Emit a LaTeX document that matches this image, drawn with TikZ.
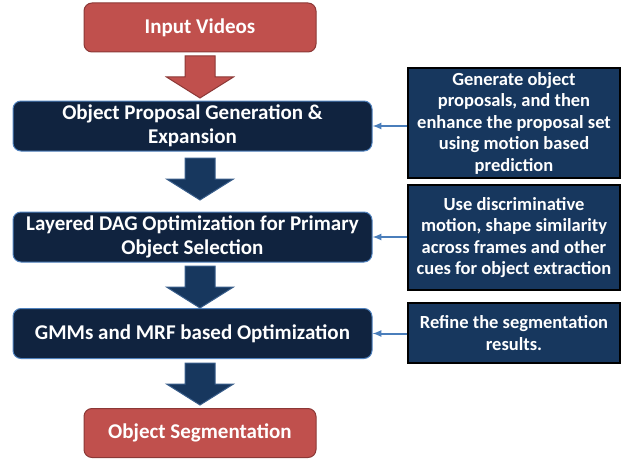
\documentclass[tikz,border=0pt]{standalone}
\usepackage{fontspec}
\setmainfont{Carlito}
\usetikzlibrary{arrows}

\definecolor{redfill}{HTML}{C0504D}
\definecolor{redline}{HTML}{8C3836}
\definecolor{navyfill}{HTML}{10233F}
\definecolor{navyline}{HTML}{4F81BD}
\definecolor{notefill}{HTML}{17375E}
\definecolor{arrowline}{HTML}{385D8A}
\definecolor{linkline}{HTML}{4A7EBB}

\tikzset{
  endbox/.style={draw=redline, line width=1pt, fill=redfill, rounded corners=8pt,
    text=white, font=\bfseries\fontsize{21}{24}\selectfont,
    minimum width=232pt, minimum height=49pt, inner sep=0pt},
  stagebox/.style={draw=navyline, line width=1pt, fill=navyfill, rounded corners=8pt,
    text=white, font=\bfseries\fontsize{21}{24.5}\selectfont, align=center,
    minimum width=359pt, minimum height=50pt, inner sep=0pt},
  notebox/.style={draw=black, line width=1.5pt, fill=notefill,
    text=white, font=\bfseries\fontsize{18.5}{21.5}\selectfont, align=center,
    minimum width=212pt, inner sep=0pt},
  redarrow/.style={draw=redline, fill=redfill, line width=1pt},
  bluearrow/.style={draw=arrowline, fill=notefill, line width=1pt},
  link/.style={draw=linkline, line width=2pt, -latex}
}

% block arrow: style, x, top of shaft, tip
\newcommand{\blockarrow}[4]{%
  \draw[#1] (#2-15,#3) -- (#2+15,#3) -- (#2+15,#4-21) -- (#2+33.5,#4-21)
    -- (#2,#4) -- (#2-33.5,#4-21) -- (#2-15,#4-21) -- cycle;}

\begin{document}
\begin{tikzpicture}[x=1pt,y=-1pt]

\useasboundingbox (0,0) rectangle (621,460);

% main flow
\node[endbox] (vid) at (200,27.5) {Input Videos};
\node[stagebox] (prop) at (192.5,126) {Object Proposal Generation \&\\Expansion};
\node[stagebox] (dag) at (192.5,237) {Layered DAG Optimization for Primary\\Object Selection};
\node[stagebox] (gmm) at (192.5,333.5) {GMMs and MRF based Optimization};
\node[endbox] (seg) at (200,433) {Object Segmentation};

% block arrows
\blockarrow{redarrow}{200}{56}{98}
\blockarrow{bluearrow}{200}{158}{200}
\blockarrow{bluearrow}{200}{266}{308}
\blockarrow{bluearrow}{200}{363}{405}

% notes
\node[notebox, minimum height=110pt] (noteA) at (514,123)
  {Generate object\\proposals, and then\\enhance the proposal set\\using motion based\\prediction};
\node[notebox, minimum height=105pt] (noteB) at (514,237.5)
  {Use discriminative\\motion, shape similarity\\across frames and other\\cues for object extraction};
\node[notebox, minimum height=60pt] (noteC) at (514,333)
  {Refine the segmentation\\results.};

\draw[link] (noteA.west |- prop.east) -- (prop.east);
\draw[link] (noteB.west |- dag.east) -- (dag.east);
\draw[link] (noteC.west |- gmm.east) -- (gmm.east);

\end{tikzpicture}
\end{document}
